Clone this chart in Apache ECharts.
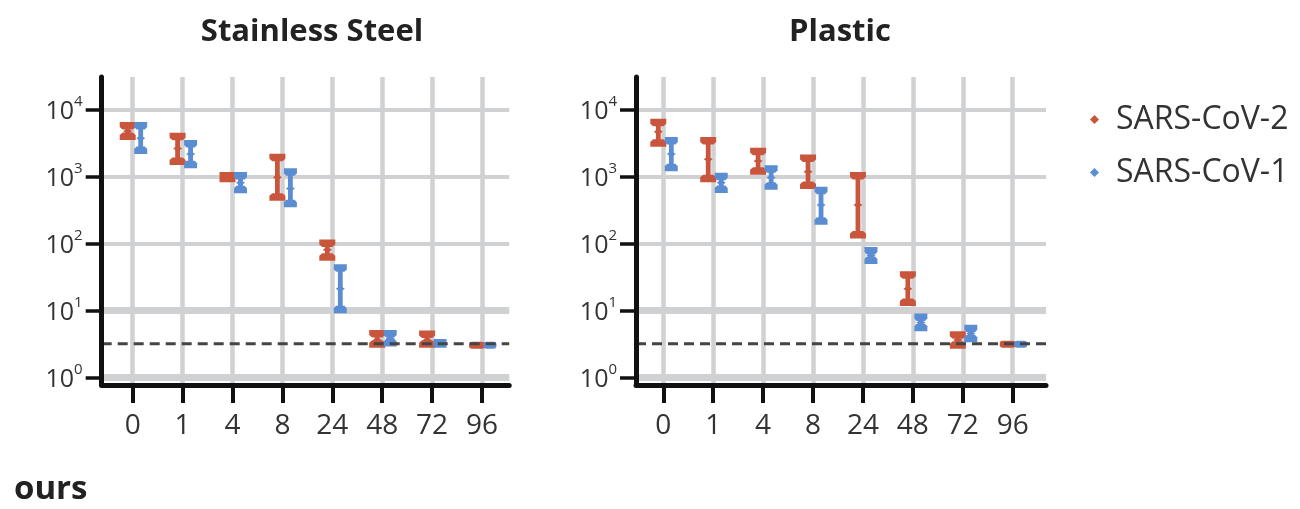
<!DOCTYPE html>
<html>
<head>
<meta charset="utf-8">
<script src="https://cdn.jsdelivr.net/npm/echarts@6/dist/echarts.min.js"></script>
<style>
  html, body { margin: 0; padding: 0; background: #ffffff; }
  #chart { width: 1300px; height: 509px; }
</style>
</head>
<body>
<div id="chart"></div>
<script>
// ---------- data ----------
const hours = ['0', '1', '4', '8', '24', '48', '72', '96'];
const panelTitles = ['Stainless Steel', 'Plastic'];
const seriesNames = ['SARS-CoV-2', 'SARS-CoV-1'];
const detectionLimit = 3.16;
const yTickValues = [1, 10, 100, 1000, 10000];

// Stainless steel
const steelCov2Mean = [4700, 2600, 970, 970, 80, 3.6, 3.6, 3.0];
const steelCov2Low  = [3860, 1630, 900, 480, 61, 3.05, 3.05, 3.0];
const steelCov2High = [5830, 4030, 1045, 1960, 103, 4.6, 4.5, 3.0];
const steelCov1Mean = [3700, 2150, 800, 660, 21, 3.8, 3.2, 3.0];
const steelCov1Low  = [2390, 1460, 618, 382, 10, 3.2, 3.05, 3.0];
const steelCov1High = [5830, 3140, 1045, 1190, 44, 4.6, 3.35, 3.0];

// Plastic
const plasticCov2Mean = [4630, 1800, 1690, 1170, 373, 21, 3.6, 3.1];
const plasticCov2Low  = [3070, 900, 1170, 716, 131, 12.9, 2.95, 3.1];
const plasticCov2High = [6530, 3480, 2410, 1900, 1045, 34.5, 4.4, 3.1];
const plasticCov1Mean = [2150, 800, 960, 373, 66, 6.6, 4.5, 3.1];
const plasticCov1Low  = [1316, 625, 700, 210, 54.4, 5.4, 3.7, 3.1];
const plasticCov1High = [3480, 1020, 1316, 631, 79.4, 8.1, 5.5, 3.1];

// ---------- styling / layout ----------
const RED = '#c9563c';
const BLUE = '#5b8dd2';
const GRID_GRAY = '#d0d1d3';
const FONT = '"Open Sans", "DejaVu Sans", sans-serif';
const Y_MIN = Math.pow(10, -0.115);
const Y_MAX = Math.pow(10, 4.482);

const panels = [
  { frameLeft: 101.7, frameWidth: 407.5, dataLeft: 132.7, dataWidth: 349.3, titleX: 312 },
  { frameLeft: 636, frameWidth: 410, dataLeft: 663.3, dataWidth: 349.4, titleX: 840 }
];
const TOP = 77, HEIGHT = 308, LBL_TOP = 109.3, LBL_HEIGHT = 268;

function build(mean, low, high) {
  return hours.map((h, i) => [i, low[i], high[i], mean[i]]);
}

function renderBar(offset, capW, color) {
  return function (params, api) {
    const i = api.value(0);
    const lo = api.coord([i, api.value(1)]);
    const hi = api.coord([i, api.value(2)]);
    const mid = api.coord([i, api.value(3)]);
    const x = lo[0] + offset;
    const capH = 6;
    const children = [];
    if (Math.abs(lo[1] - hi[1]) < 0.5) {
      children.push({
        type: 'rect',
        shape: { x: x - capW / 2, y: mid[1] - 3.5, width: capW, height: 7, r: 3 },
        style: { fill: color }
      });
    } else {
      const inner = capW * 0.32;
      children.push({
        type: 'rect',
        shape: { x: x - 2.4, y: hi[1], width: 4.8, height: lo[1] - hi[1] },
        style: { fill: color }
      });
      // top cap (slightly flared toward the inside)
      children.push({
        type: 'polygon',
        shape: { points: [[x - capW / 2, hi[1] - capH / 2], [x + capW / 2, hi[1] - capH / 2], [x + capW / 2, hi[1] + capH / 2 - 1], [x + inner, hi[1] + capH / 2 + 1.5], [x - inner, hi[1] + capH / 2 + 1.5], [x - capW / 2, hi[1] + capH / 2 - 1]] },
        style: { fill: color }
      });
      children.push({
        type: 'polygon',
        shape: { points: [[x - capW / 2, lo[1] + capH / 2], [x + capW / 2, lo[1] + capH / 2], [x + capW / 2, lo[1] - capH / 2 + 1], [x + inner, lo[1] - capH / 2 - 1.5], [x - inner, lo[1] - capH / 2 - 1.5], [x - capW / 2, lo[1] - capH / 2 + 1]] },
        style: { fill: color }
      });
      children.push({
        type: 'polygon',
        shape: { points: [[x - 4.5, mid[1]], [x, mid[1] - 3], [x + 4.5, mid[1]], [x, mid[1] + 3]] },
        style: { fill: color }
      });
    }
    return { type: 'group', children: children };
  };
}

const grids = [], xAxes = [], yAxes = [], series = [], graphics = [];

const panelData = [
  [build(steelCov2Mean, steelCov2Low, steelCov2High), build(steelCov1Mean, steelCov1Low, steelCov1High)],
  [build(plasticCov2Mean, plasticCov2Low, plasticCov2High), build(plasticCov1Mean, plasticCov1Low, plasticCov1High)]
];

panels.forEach((p, k) => {
  const g0 = grids.length;
  grids.push({ left: p.frameLeft, top: TOP, width: p.frameWidth, height: HEIGHT });
  grids.push({ left: p.frameLeft, top: LBL_TOP, width: p.frameWidth, height: LBL_HEIGHT });
  grids.push({ left: p.dataLeft, top: TOP, width: p.dataWidth, height: HEIGHT });

  const xa0 = xAxes.length, ya0 = yAxes.length;
  // frame axes (drawn on top)
  xAxes.push({
    gridIndex: g0, type: 'value', min: 0, max: 1, z: 10,
    axisLine: { show: true, lineStyle: { color: '#111', width: 5 } },
    axisTick: { show: false }, axisLabel: { show: false }, splitLine: { show: false }
  });
  yAxes.push({
    gridIndex: g0, type: 'log', logBase: 10, min: Y_MIN, max: Y_MAX, z: 10,
    axisLine: { show: true, lineStyle: { color: '#111', width: 5 } },
    axisTick: { show: false }, axisLabel: { show: false }, splitLine: { show: false }
  });
  // label axes (y tick labels and horizontal grid lines, below the marks)
  xAxes.push({ gridIndex: g0 + 1, type: 'value', min: 0, max: 1, show: false });
  yAxes.push({
    gridIndex: g0 + 1, type: 'log', logBase: 10, min: 1, max: 10000, z: 0,
    axisLine: { show: false },
    axisTick: { show: true, length: 16, lineStyle: { color: '#111', width: 3.5 } },
    axisLabel: {
      show: true, margin: 19,
      formatter: function (v) {
        return '{a|10}{b|' + Math.round(Math.log10(v)) + '}';
      },
      rich: {
        a: { fontSize: 25, fontFamily: FONT, color: '#333', lineHeight: 30, verticalAlign: 'bottom' },
        b: { fontSize: 15, fontFamily: FONT, color: '#333', lineHeight: 30, verticalAlign: 'top', padding: [0, 0, 10, 0] }
      }
    },
    splitLine: { show: true, lineStyle: { color: GRID_GRAY, width: 4 } }
  });
  yAxes.push({
    gridIndex: g0 + 1, type: 'log', logBase: 10, min: 1, max: 10000, position: 'right', z: 0,
    axisLine: { show: false }, axisTick: { show: false }, axisLabel: { show: false },
    splitLine: { show: true, lineStyle: { color: [GRID_GRAY, GRID_GRAY, 'rgba(0,0,0,0)', 'rgba(0,0,0,0)', 'rgba(0,0,0,0)'], width: 7 } }
  });
  // data axes (categories, vertical grid lines, below the marks)
  xAxes.push({
    gridIndex: g0 + 2, type: 'category', data: hours, boundaryGap: false, z: 0,
    axisLine: { show: false },
    axisTick: { show: true, length: 18, lineStyle: { color: '#111', width: 4 } },
    axisLabel: { show: true, margin: 27, fontSize: 28, fontFamily: FONT, color: '#333', interval: 0 },
    splitLine: { show: true, lineStyle: { color: GRID_GRAY, width: 4.5 } }
  });
  yAxes.push({
    gridIndex: g0 + 2, type: 'log', logBase: 10, min: Y_MIN, max: Y_MAX, z: 0,
    axisLine: { show: false }, axisTick: { show: false }, axisLabel: { show: false }, splitLine: { show: false }
  });

  series.push({
    type: 'custom', name: seriesNames[0], xAxisIndex: xa0 + 2, yAxisIndex: ya0 + 3, z: 3,
    itemStyle: { color: RED },
    encode: { x: 0, y: [1, 2, 3] },
    renderItem: renderBar(-5, 16, RED),
    data: panelData[k][0]
  });
  series.push({
    type: 'custom', name: seriesNames[1], xAxisIndex: xa0 + 2, yAxisIndex: ya0 + 3, z: 4,
    itemStyle: { color: BLUE },
    encode: { x: 0, y: [1, 2, 3] },
    renderItem: renderBar(8, 13, BLUE),
    data: panelData[k][1]
  });
  series.push({
    type: 'line', name: 'limit', xAxisIndex: xa0, yAxisIndex: ya0, z: 5,
    symbol: 'none', silent: true,
    lineStyle: { color: '#444', width: 3, type: [10, 6] },
    data: [[0, detectionLimit], [1, detectionLimit]]
  });

  graphics.push({
    type: 'text', x: p.titleX, y: 32,
    style: {
      text: panelTitles[k], fontSize: 31, fontWeight: 'bold', fontFamily: FONT, fill: '#222',
      align: 'center', verticalAlign: 'middle', textAlign: 'center', textVerticalAlign: 'middle'
    }
  });
});

graphics.push({
  type: 'text', x: 14, y: 490,
  style: {
    text: 'ours', fontSize: 33, fontWeight: 'bold', fontFamily: FONT, fill: '#222',
    align: 'left', verticalAlign: 'middle', textAlign: 'left', textVerticalAlign: 'middle'
  }
});

const chart = echarts.init(document.getElementById('chart'), null, { renderer: 'canvas' });
chart.setOption({
  backgroundColor: '#ffffff',
  animation: false,
  grid: grids,
  xAxis: xAxes,
  yAxis: yAxes,
  legend: {
    data: seriesNames,
    orient: 'vertical',
    left: 1085, top: 98,
    icon: 'diamond',
    itemWidth: 9, itemHeight: 9,
    itemGap: 20,
    textStyle: { fontSize: 32, fontFamily: FONT, color: '#333', lineHeight: 33, padding: [0, 0, 0, 12] }
  },
  graphic: graphics,
  series: series
});
</script>
</body>
</html>
